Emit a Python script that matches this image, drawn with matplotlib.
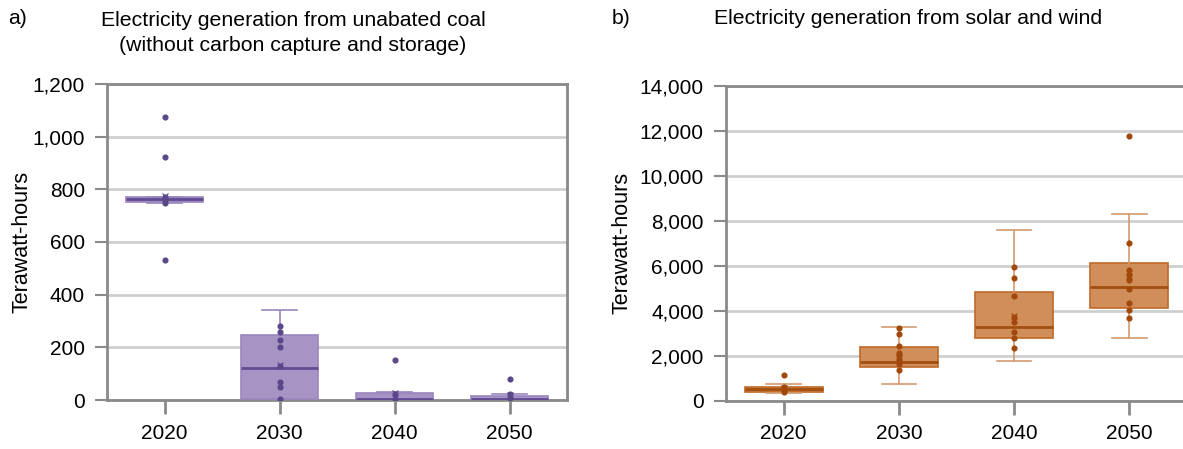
import matplotlib
matplotlib.use("Agg")
import matplotlib.pyplot as plt
from matplotlib.ticker import FuncFormatter

plt.rcParams['font.family'] = ['Liberation Sans Narrow', 'Liberation Sans', 'DejaVu Sans']

years = ['2020', '2030', '2040', '2050']

# coal (TWh): box statistics
coal_q1 = [753, 3, 0, 0]
coal_med = [762, 120, 2, 3]
coal_q3 = [772, 247, 28, 15]
coal_lo = [747, 0, 0, 0]
coal_hi = [772, 342, 30, 22]
coal_mean = [776, 133, 27, 18]
coal_points = [
    [1076, 921, 770, 760, 748, 533],
    [282, 258, 229, 201, 129, 70, 49, 3],
    [153, 23, 3],
    [79, 22, 6],
]

# solar and wind (TWh)
sw_q1 = [400, 1511, 2773, 4133]
sw_med = [507, 1707, 3289, 5053]
sw_q3 = [622, 2387, 4844, 6107]
sw_lo = [329, 742, 1778, 2773]
sw_hi = [742, 3276, 7587, 8284]
sw_mean = [560, 1890, 3760, 5530]
sw_points = [
    [1129, 622, 540, 400],
    [3231, 2978, 2418, 2107, 2018, 1867, 1631, 1364],
    [5942, 5467, 4667, 3733, 3484, 3053, 2773, 2356],
    [11778, 6996, 5796, 5573, 5364, 4978, 4329, 4031, 3676],
]

spine_col = '#8a8a8a'
grid_col = '#cfcfcf'
fs_tick = 15
fs_lab = 15.5
fs_title = 15.3


def make_stats(q1, med, q3, lo, hi, mean):
    stats = []
    for i in range(len(years)):
        stats.append(dict(q1=q1[i], med=med[i], q3=q3[i], whislo=lo[i],
                          whishi=hi[i], mean=mean[i], fliers=[], label=years[i]))
    return stats


def draw_panel(ax, stats, points, ymax, ystep, face, edge, medc, whisc, dotc):
    pos = list(range(len(years)))
    ax.bxp(stats, positions=pos, widths=0.675, patch_artist=True, showmeans=True,
           showfliers=False,
           boxprops=dict(facecolor=face, edgecolor=edge, linewidth=1.2),
           medianprops=dict(color=medc, linewidth=2),
           whiskerprops=dict(color=whisc, linewidth=1.2),
           capprops=dict(color=whisc, linewidth=1.2),
           capwidths=0.3,
           meanprops=dict(marker='x', markeredgecolor=medc, markersize=5,
                          markeredgewidth=0.9),
           zorder=3)
    for i, pts in enumerate(points):
        ax.plot([pos[i]] * len(pts), pts, 'o', color=dotc, markersize=3.4,
                zorder=4, linestyle='none')
    ax.set_xlim(-0.5, len(years) - 0.5)
    ax.set_ylim(0, ymax)
    ax.set_yticks(range(0, ymax + 1, ystep))
    ax.yaxis.set_major_formatter(FuncFormatter(lambda v, p: '{:,.0f}'.format(v)))
    ax.set_xticks(pos)
    ax.set_xticklabels(years)
    ax.grid(axis='y', color=grid_col, linewidth=2, zorder=0)
    ax.set_axisbelow(True)
    for s in ax.spines.values():
        s.set_color(spine_col)
        s.set_linewidth(2)
    ax.tick_params(axis='y', length=9, width=1.5, color=spine_col, labelsize=fs_tick, pad=7)
    ax.tick_params(axis='x', length=10, width=2, color=spine_col, labelsize=fs_tick, pad=7)
    ax.set_ylabel('Terawatt-hours', fontsize=fs_lab)


fig = plt.figure(figsize=(11.83, 4.49), dpi=100)
ax1 = fig.add_axes([107 / 1183, 49 / 449, 460 / 1183, 316 / 449])
ax2 = fig.add_axes([726 / 1183, 48.3 / 449, 461 / 1183, 315 / 449])

draw_panel(ax1, make_stats(coal_q1, coal_med, coal_q3, coal_lo, coal_hi, coal_mean),
           coal_points, 1200, 200, '#a794c4', '#9a86be', '#634a93', '#9a86be', '#5a4789')
draw_panel(ax2, make_stats(sw_q1, sw_med, sw_q3, sw_lo, sw_hi, sw_mean),
           sw_points, 14000, 2000, '#d08e5a', '#c0692a', '#a3500f', '#d49a70', '#a1470a')

ax1.yaxis.set_label_coords(-0.163, 0.5)
ax2.yaxis.set_label_coords(-0.202, 0.5)

fig.text(8 / 1183, 1 - 19 / 449, 'a)', fontsize=fs_title, va='center', ha='left')
fig.text(293 / 1183, 1 - 33 / 449,
         'Electricity generation from unabated coal\n(without carbon capture and storage)',
         fontsize=fs_title, va='center', ha='center', linespacing=1.45)
fig.text(612 / 1183, 1 - 19 / 449, 'b)', fontsize=fs_title, va='center', ha='left')
fig.text(908 / 1183, 1 - 19 / 449, 'Electricity generation from solar and wind',
         fontsize=fs_title, va='center', ha='center')

fig.savefig('out.png', dpi=100)
